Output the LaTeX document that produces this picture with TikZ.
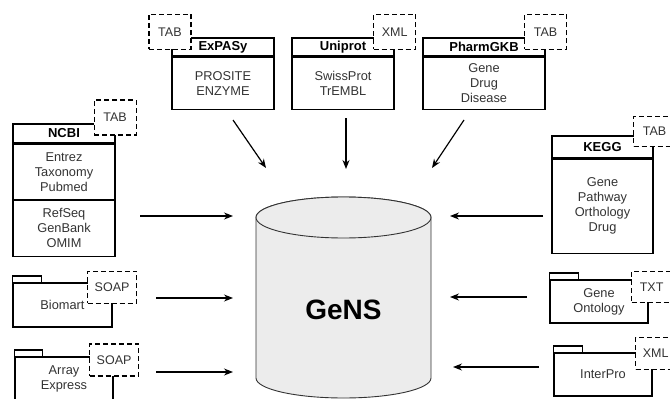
\documentclass[tikz,border=0pt]{standalone}
\usepackage{fontspec}
\setmainfont{Liberation Sans}
\usetikzlibrary{arrows.meta}
\usetikzlibrary{positioning}
\tikzstyle{head} = [rectangle, draw=black, line width=1.2pt, inner sep=0pt, minimum height=18pt, text centered, font=\fontsize{13}{15}\selectfont\bfseries]
\tikzstyle{body} = [rectangle, draw=black, line width=1.2pt, inner sep=0pt, align=center, text=black!80, font=\fontsize{12.8}{15}\selectfont]
\tikzstyle{tag} = [rectangle, draw=black, dash pattern=on 5pt off 3pt, line width=1.2pt, fill=white, inner sep=0pt, minimum width=42pt, minimum height=35pt, text=black!80, font=\fontsize{12.5}{15}\selectfont]
\tikzstyle{arrow} = [line width=1.2pt, -{Stealth[length=9pt,width=7pt]}]
\tikzstyle{db} = [draw=black!80, line width=0.9pt, fill=gray!15]

\begin{document}
\begin{tikzpicture}[x=1pt, y=1pt]
\useasboundingbox (0,0) rectangle (670,-399);

% GeNS database
\draw[db] (256,-217.5) -- (256,-378) arc[start angle=180, end angle=360, x radius=87.5, y radius=20] -- (431,-217.5) arc[start angle=0, end angle=180, x radius=87.5, y radius=20.5] -- cycle;
\draw[db] (343.5,-217.5) ellipse [x radius=87.5, y radius=20.5];
\node (gens) at (343.5,-310) {\fontsize{28}{30}\selectfont\bfseries GeNS};

% top sources
\node (expasy) [head, minimum width=102pt] at (223,-47) {ExPASy};
\node (expasy-db) [body, minimum width=102pt, minimum height=52pt, below=0pt of expasy] {PROSITE\\ENZYME};
\node (expasy-fmt) [tag] at ([xshift=-1.5pt, yshift=5.5pt]expasy.north west) {TAB};

\node (uniprot) [head, minimum width=102pt] at (343,-47) {Uniprot};
\node (uniprot-db) [body, minimum width=102pt, minimum height=52pt, below=0pt of uniprot] {SwissProt\\TrEMBL};
\node (uniprot-fmt) [tag] at ([yshift=5.5pt]uniprot.north east) {XML};

\node (pharmgkb) [head, minimum width=122pt] at (484,-47) {PharmGKB};
\node (pharmgkb-db) [body, minimum width=122pt, minimum height=52pt, below=0pt of pharmgkb] {Gene\\Drug\\Disease};
\node (pharmgkb-fmt) [tag] at ([yshift=5.5pt]pharmgkb.north east) {TAB};

% left sources
\node (ncbi) [head, minimum width=102pt, minimum height=19pt] at (64,-133.5) {NCBI};
\node (ncbi-lit) [body, minimum width=102pt, minimum height=55pt, below=0pt of ncbi] {Entrez\\Taxonomy\\Pubmed};
\node (ncbi-seq) [body, minimum width=102pt, minimum height=56pt, below=0pt of ncbi-lit] {RefSeq\\GenBank\\OMIM};
\node (ncbi-fmt) [tag] at ([xshift=-0.5pt, yshift=6pt]ncbi.north east) {TAB};

\node (biomart) [body, minimum width=99pt, minimum height=44pt] at (62.5,-305) {Biomart};
\draw[line width=1.2pt] (biomart.north west) rectangle ++(29,6.5);
\node (biomart-fmt) [tag, minimum width=49pt, minimum height=32pt] at ([xshift=-0.5pt, yshift=-5pt]biomart.north east) {SOAP};

\node (arrayexp) [body, minimum width=98pt, minimum height=44pt] at (64,-379) {Array\\Express};
\draw[line width=1.2pt] (arrayexp.north west) rectangle ++(28,6.5);
\node (arrayexp-fmt) [tag, minimum width=49pt, minimum height=32pt] at ([xshift=0.5pt, yshift=-3.5pt]arrayexp.north east) {SOAP};

% right sources
\node (kegg) [head, minimum width=101pt, minimum height=22pt] at (602.5,-147) {KEGG};
\node (kegg-db) [body, minimum width=101pt, minimum height=94pt, below=0pt of kegg] {Gene\\Pathway\\Orthology\\Drug};
\node (kegg-fmt) [tag, minimum height=30pt] at ([xshift=1pt, yshift=4pt]kegg.north east) {TAB};

\node (geneont) [body, minimum width=98pt, minimum height=43pt] at (599,-301.5) {Gene\\Ontology};
\draw[line width=1.2pt] (geneont.north west) rectangle ++(29,6.5);
\node (geneont-fmt) [tag, minimum width=40pt, minimum height=31pt] at ([xshift=3pt, yshift=-7.5pt]geneont.north east) {TXT};

\node (interpro) [body, minimum width=98pt, minimum height=43pt] at (603,-374.5) {InterPro};
\draw[line width=1.2pt] (interpro.north west) rectangle ++(29,6.5);
\node (interpro-fmt) [tag, minimum width=40pt, minimum height=32pt] at ([xshift=3pt, yshift=-1pt]interpro.north east) {XML};

% arrow ends
\coordinate (expasy-out) at (233,-120);
\coordinate (uniprot-out) at (346,-118);
\coordinate (pharmgkb-out) at (464,-120);
\coordinate (ncbi-out) at (140,-216);
\coordinate (biomart-out) at (156,-298);
\coordinate (arrayexp-out) at (156,-372);
\coordinate (kegg-out) at (543,-216);
\coordinate (geneont-out) at (527,-297);
\coordinate (interpro-out) at (539,-367);
\coordinate (gens-n1) at (266,-168);
\coordinate (gens-n2) at (346,-169);
\coordinate (gens-n3) at (432,-168);
\coordinate (gens-w1) at (233,-216);
\coordinate (gens-w2) at (233,-298);
\coordinate (gens-w3) at (233,-372);
\coordinate (gens-e1) at (450,-216);
\coordinate (gens-e2) at (450,-297);
\coordinate (gens-e3) at (453,-367);

\draw[arrow] (expasy-out) -- (gens-n1);
\draw[arrow] (uniprot-out) -- (gens-n2);
\draw[arrow] (pharmgkb-out) -- (gens-n3);
\draw[arrow] (ncbi-out) -- (gens-w1);
\draw[arrow] (biomart-out) -- (gens-w2);
\draw[arrow] (arrayexp-out) -- (gens-w3);
\draw[arrow] (kegg-out) -- (gens-e1);
\draw[arrow] (geneont-out) -- (gens-e2);
\draw[arrow] (interpro-out) -- (gens-e3);

\end{tikzpicture}
\end{document}
